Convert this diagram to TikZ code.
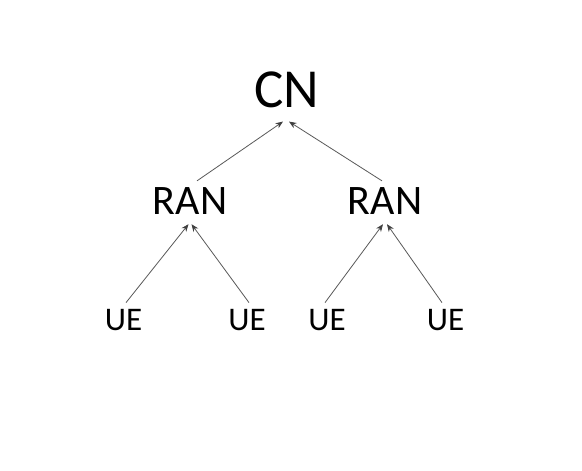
\documentclass[tikz,border=0pt]{standalone}
\usepackage{fontspec}
\setmainfont{Carlito}
\usetikzlibrary{arrows.meta}
\definecolor{arrgray}{HTML}{595959}
\definecolor{headgray}{HTML}{404040}
\begin{document}
\begin{tikzpicture}[x=1pt,y=-1pt,
  lbl/.style={inner sep=0pt,anchor=base,text=black},
  cnlbl/.style={lbl,font=\fontsize{55}{66}\selectfont},
  ranlbl/.style={lbl,font=\fontsize{42}{50}\selectfont},
  uelbl/.style={lbl,font=\fontsize{33}{40}\selectfont},
  arr/.style={draw=arrgray,line width=0.8pt,-{Stealth[length=7.5pt,width=6pt,color=headgray]}}]
\useasboundingbox[fill=white] (0,0) rectangle (582,471);
\node[cnlbl] (cn) at (286.5,107) {CN};
\node[ranlbl] (ran1) at (190,214) {RAN};
\node[ranlbl] (ran2) at (385,214) {RAN};
\node[uelbl] (ue1) at (123.5,330) {UE};
\node[uelbl] (ue2) at (247,330) {UE};
\node[uelbl] (ue3) at (327,330) {UE};
\node[uelbl] (ue4) at (445.5,330) {UE};
\draw[arr] ([xshift=7pt,yshift=6pt]ran1.north) -- ([xshift=-3.5pt,yshift=-14pt]cn.south);
\draw[arr] ([xshift=-3pt,yshift=6pt]ran2.north) -- ([xshift=2.5pt,yshift=-14pt]cn.south);
\draw[arr] ([xshift=2.5pt,yshift=6pt]ue1.north) -- ([xshift=-1.5pt,yshift=-10pt]ran1.south);
\draw[arr] ([xshift=2pt,yshift=6pt]ue2.north) -- ([xshift=1.5pt,yshift=-10pt]ran1.south);
\draw[arr] ([xshift=-2pt,yshift=6pt]ue3.north) -- ([xshift=-2pt,yshift=-10pt]ran2.south);
\draw[arr] ([xshift=-3.5pt,yshift=6pt]ue4.north) -- ([xshift=2pt,yshift=-10pt]ran2.south);
\end{tikzpicture}
\end{document}
